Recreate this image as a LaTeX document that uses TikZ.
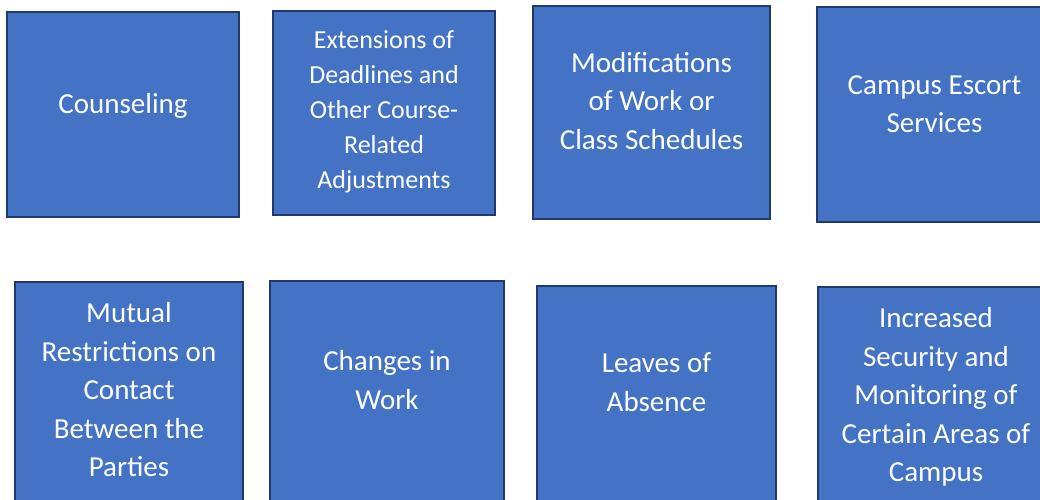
\documentclass[tikz,border=0pt]{standalone}
\usepackage{fontspec}
\setmainfont{Carlito}
\usepackage{xcolor}
\definecolor{box-blue}{RGB}{68,114,196}
\definecolor{box-edge}{RGB}{34,58,104}
\tikzstyle{optbox}=[draw=box-edge, line width=2pt, fill=box-blue, inner sep=0pt]
\tikzstyle{optlabel}=[text=white, align=center, inner sep=0pt, font=\fontsize{29}{38.5}\selectfont]
\tikzstyle{smalllabel}=[optlabel, font=\fontsize{26}{35}\selectfont]

\begin{document}
\begin{tikzpicture}[x=1pt, y=-1pt]
	\useasboundingbox (0,0) rectangle (1040,499);
	\clip (0,0) rectangle (1040,499);
	% top row
	\node[optbox, minimum width=232pt, minimum height=205pt] (couns) at (123,114.5) {};
	\node[optbox, minimum width=222pt, minimum height=204pt] (exten) at (384,113) {};
	\node[optbox, minimum width=237pt, minimum height=213pt] (modif) at (651.5,112.5) {};
	\node[optbox, minimum width=235pt, minimum height=215pt] (escort) at (934.5,114.5) {};
	% bottom row (cut off at the lower edge)
	\node[optbox, minimum width=228pt, minimum height=230pt] (mutual) at (129,397) {};
	\node[optbox, minimum width=234pt, minimum height=230pt] (chwork) at (387,396) {};
	\node[optbox, minimum width=239pt, minimum height=226pt] (leaves) at (656.5,399) {};
	\node[optbox, minimum width=236pt, minimum height=226pt] (secur) at (936,400) {};
	% texts
	\node[optlabel] (couns-t) at (123,106) {Counseling};
	\node[smalllabel] (exten-t) at (384,112) {Extensions of\\Deadlines and\\Other Course-\\Related\\Adjustments};
	\node[optlabel] (modif-t) at (651.5,101) {Modifications\\of Work or\\Class Schedules};
	\node[optlabel] (escort-t) at (934.5,104) {Campus Escort\\Services};
	\node[optlabel] (mutual-t) at (129,390) {Mutual\\Restrictions on\\Contact\\Between the\\Parties};
	\node[optlabel] (chwork-t) at (387,380) {Changes in\\Work};
	\node[optlabel] (leaves-t) at (656.5,382) {Leaves of\\Absence};
	\node[optlabel] (secur-t) at (936,397) {Increased\\Security and\\Monitoring of\\Certain Areas of\\Campus};
\end{tikzpicture}
\end{document}
